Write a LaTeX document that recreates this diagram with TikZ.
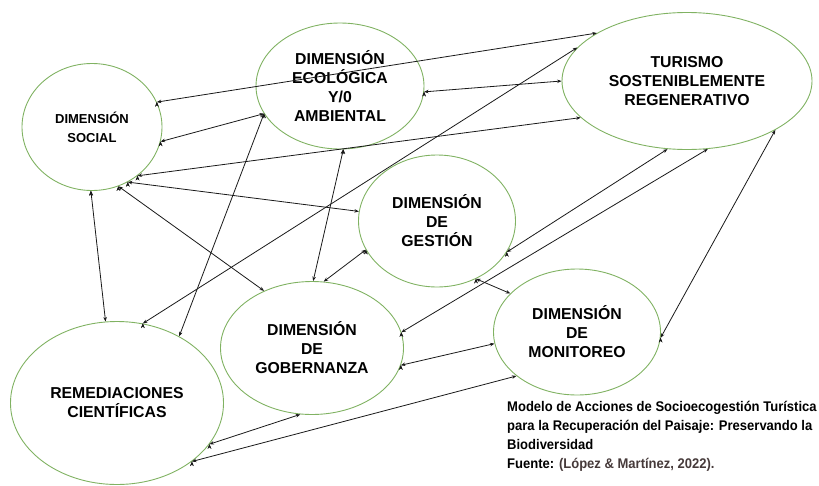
\documentclass[tikz,border=0pt]{standalone}
\usepackage{fontspec}
\setmainfont{Liberation Sans}
\newfontfamily\capfont[FakeStretch=0.93]{Liberation Sans}
\usetikzlibrary{shapes.geometric,arrows.meta}
\definecolor{ellgreen}{RGB}{128,178,98}
\definecolor{srcgray}{RGB}{70,58,58}

\begin{document}
\begin{tikzpicture}[x=1pt,y=-1pt,>={Stealth[length=4.5pt,width=3.5pt]}]
\tikzstyle{dimnode}=[ellipse,draw=ellgreen,line width=0.9pt,inner sep=0pt,align=center,font=\bfseries\fontsize{15.8}{19}\selectfont]
\tikzstyle{link}=[<->,line width=0.8pt,black!90]

\useasboundingbox (0,0) rectangle (819,485);

\node[dimnode,minimum width=140,minimum height=127,font=\bfseries\fontsize{13}{19}\selectfont] (soc) at (92,127) {DIMENSIÓN\\SOCIAL};
\node[dimnode,minimum width=168,minimum height=126] (eco) at (340,86) {DIMENSIÓN\\ECOLÓGICA\\Y/0\\AMBIENTAL};
\node[dimnode,minimum width=250,minimum height=137] (tur) at (687,81) {TURISMO\\SOSTENIBLEMENTE\\REGENERATIVO};
\node[dimnode,minimum width=157,minimum height=132] (ges) at (437,221) {DIMENSIÓN\\DE\\GESTIÓN};
\node[dimnode,minimum width=183,minimum height=133] (gob) at (312,348) {DIMENSIÓN\\DE\\GOBERNANZA};
\node[dimnode,minimum width=213,minimum height=163] (rem) at (117,403) {REMEDIACIONES\\CIENTÍFICAS};
\node[dimnode,minimum width=167,minimum height=126] (mon) at (577,332) {DIMENSIÓN\\DE\\MONITOREO};

\node[anchor=north west,inner sep=0pt,align=left,font=\capfont\bfseries\fontsize{14}{19}\selectfont] (cap) at (507,401)
  {Modelo de Acciones de Socioecogestión Turística\\para la Recuperación del Paisaje: Preservando la\\Biodiversidad\\Fuente: \textcolor{srcgray}{(López \& Martínez, 2022).}};

% social
\draw [link] (soc.21) edge (tur.152);
\draw [link] (soc.-12) edge (eco.200);
\draw [link] (soc.-47) edge (tur.199);
\draw [link] (soc.269) edge (rem.98);
\draw [link] (soc.294) edge (gob.130);
\draw [link] (soc.303) edge (ges.173);

% ecologica
\draw [link] (eco.-4) edge (tur.180);
\draw [link] (eco.200) edge (rem.47);
\draw [link] (eco.273) edge (gob.89);

% remediaciones
\draw [link] (rem.72) edge (tur.163);
\draw [link] (rem.336) edge (gob.260);
\draw [link] (rem.322) edge (mon.216);

% gestion, gobernanza, monitoreo
\draw [link] (ges.202) edge (gob.80);
\draw [link] (ges.304) edge (mon.150);
\draw [link] (ges.336) edge (tur.254);
\draw [link] (gob.10) edge (tur.287);
\draw [link] (gob.349) edge (mon.188);
\draw [link] (mon.356) edge (tur.331);

\end{tikzpicture}
\end{document}
